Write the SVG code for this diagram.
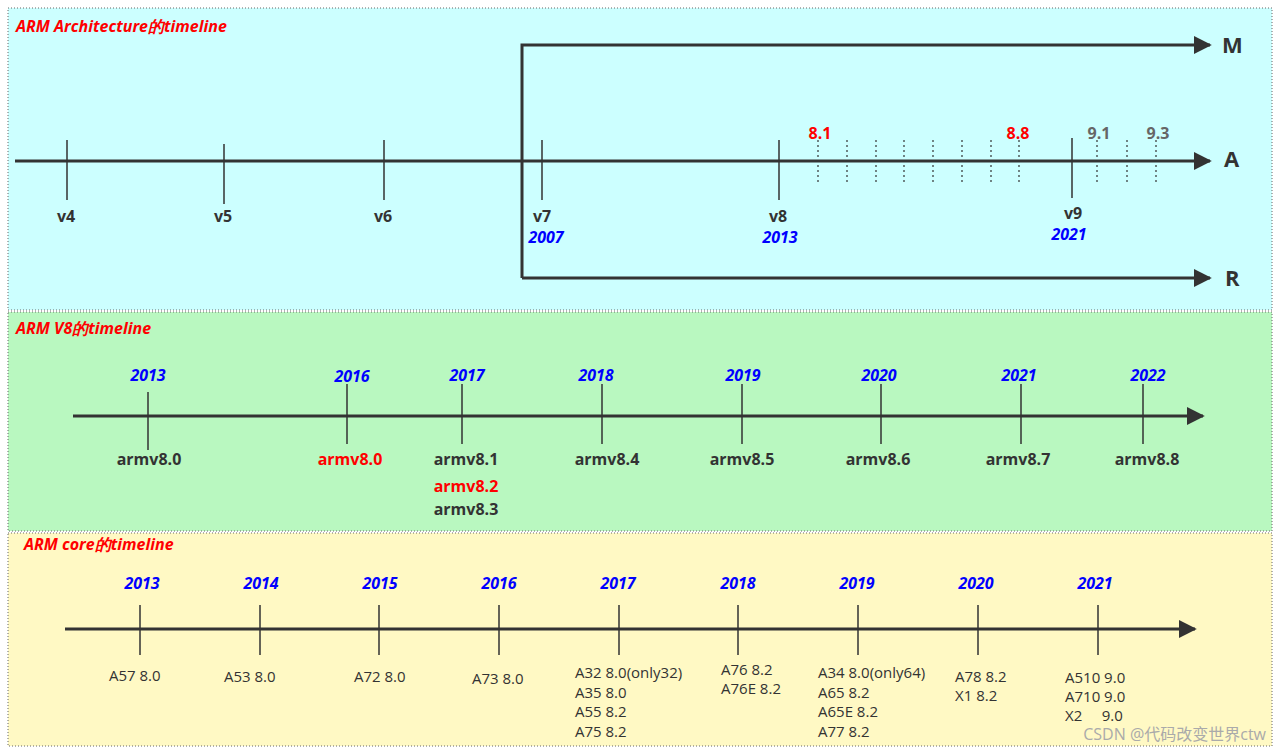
<svg xmlns="http://www.w3.org/2000/svg" width="1282" height="751" viewBox="0 0 1282 751">
<defs>
<marker id="ar" viewBox="0 0 10 10" refX="9" refY="5" markerWidth="18" markerHeight="18" markerUnits="userSpaceOnUse" orient="auto"><path d="M0,0L10,5L0,10z" fill="#333"/></marker>
<style>
.p{stroke:#666;stroke-dasharray:1 2;stroke-width:1}
.ax{stroke:#333;stroke-width:3;fill:none}
.t{stroke:#333;stroke-width:1.5}
.d{stroke:#333;stroke-width:1.2;stroke-dasharray:2 3}
.ti{font:italic bold 16px "Open Sans","Liberation Sans",sans-serif;fill:#f00}
.b{font:bold 16px "Open Sans","Liberation Sans",sans-serif;fill:#333;text-anchor:middle}
.r{fill:#f00}
.g{fill:#666}
.y{font:italic bold 16px "Open Sans","Liberation Sans",sans-serif;fill:#00f;text-anchor:middle}
.n{font:15px "Open Sans","Liberation Sans",sans-serif;fill:#333}
.L{font:bold 22px "Open Sans","Liberation Sans",sans-serif;fill:#333}
</style>
</defs>
<rect width="1282" height="751" fill="#fff"/>
<rect x="8" y="8" width="1264" height="302" fill="#ccffff" class="p"/>
<rect x="8" y="312" width="1264" height="219" fill="#b9f8c0" class="p"/>
<rect x="8" y="533" width="1264" height="213" fill="#fff9c4" class="p"/>
<text x="16" y="32" class="ti">ARM Architecture的timeline</text>
<text x="16" y="334" class="ti">ARM V8的timeline</text>
<text x="24" y="550" class="ti">ARM core的timeline</text>
<g id="connectors">
<path class="ax" d="M15,161H1210" marker-end="url(#ar)"/>
<path class="ax" d="M522,278V45H1210" marker-end="url(#ar)"/>
<path class="ax" d="M522,278H1210" marker-end="url(#ar)"/>
<path class="ax" d="M73,416H1203" marker-end="url(#ar)"/>
<path class="ax" d="M65,629H1195" marker-end="url(#ar)"/>
</g>
<text x="1222" y="53" class="L">M</text>
<text x="1224" y="167" class="L">A</text>
<text x="1225" y="286" class="L">R</text>
<g id="arch">
<path class="t" d="M67,140V200M224,144V204M384,140V200M542,140V200M779,140V200M1072,138V198"/>
<path class="d" d="M818,140V183M847,140V183M876,140V183M904,140V183M933,140V183M962,140V183M991,140V183M1019,140V183M1097,140V183M1127,140V183M1156,140V183"/>
<text x="66" y="222" class="b">v4</text><text x="223" y="222" class="b">v5</text><text x="383" y="222" class="b">v6</text>
<text x="542" y="222" class="b">v7</text><text x="778" y="222" class="b">v8</text><text x="1073" y="219" class="b">v9</text>
<text x="546" y="243" class="y">2007</text><text x="780" y="243" class="y">2013</text><text x="1069" y="240" class="y">2021</text>
<text x="820" y="139" class="b r">8.1</text><text x="1018" y="139" class="b r">8.8</text>
<text x="1099" y="139" class="b g">9.1</text><text x="1158" y="139" class="b g">9.3</text>
</g>
<g id="v8">
<path class="t" d="M148,392V450M347,384V444M462,384V444M602,384V444M742,384V444M881,384V444M1021,384V444M1143,384V444"/>
<text x="148" y="381" class="y">2013</text><text x="352" y="382" class="y">2016</text><text x="467" y="381" class="y">2017</text><text x="596" y="381" class="y">2018</text>
<text x="743" y="381" class="y">2019</text><text x="879" y="381" class="y">2020</text><text x="1019" y="381" class="y">2021</text><text x="1148" y="381" class="y">2022</text>
<text x="149" y="465" class="b">armv8.0</text><text x="350" y="465" class="b r">armv8.0</text><text x="466" y="465" class="b">armv8.1</text>
<text x="466" y="492" class="b r">armv8.2</text><text x="466" y="515" class="b">armv8.3</text>
<text x="607" y="465" class="b">armv8.4</text><text x="742" y="465" class="b">armv8.5</text><text x="878" y="465" class="b">armv8.6</text>
<text x="1018" y="465" class="b">armv8.7</text><text x="1147" y="465" class="b">armv8.8</text>
</g>
<g id="cores">
<path class="t" d="M140,605V655M260,605V655M379,605V655M499,605V655M619,605V655M738,605V655M858,605V655M978,605V655M1098,605V655"/>
<text x="142" y="589" class="y">2013</text><text x="261" y="589" class="y">2014</text><text x="380" y="589" class="y">2015</text><text x="499" y="589" class="y">2016</text>
<text x="618" y="589" class="y">2017</text><text x="738" y="589" class="y">2018</text><text x="857" y="589" class="y">2019</text><text x="976" y="589" class="y">2020</text><text x="1095" y="589" class="y">2021</text>
<text x="109" y="681" class="n">A57 8.0</text><text x="224" y="682" class="n">A53 8.0</text><text x="354" y="682" class="n">A72 8.0</text><text x="472" y="684" class="n">A73 8.0</text>
<text x="575" y="678" class="n">A32 8.0(only32)</text><text x="575" y="698" class="n">A35 8.0</text><text x="575" y="717" class="n">A55 8.2</text><text x="575" y="737" class="n">A75 8.2</text>
<text x="721" y="675" class="n">A76 8.2</text><text x="721" y="694" class="n">A76E 8.2</text>
<text x="818" y="678" class="n">A34 8.0(only64)</text><text x="818" y="698" class="n">A65 8.2</text><text x="818" y="717" class="n">A65E 8.2</text><text x="818" y="737" class="n">A77 8.2</text>
<text x="955" y="682" class="n">A78 8.2</text><text x="955" y="701" class="n">X1 8.2</text>
<text x="1065" y="683" class="n">A510 9.0</text><text x="1065" y="702" class="n">A710 9.0</text><text x="1065" y="721" class="n" xml:space="preserve">X2     9.0</text>
</g>
<text x="1266" y="740" text-anchor="end" style="font:16px 'Open Sans','Noto Sans CJK SC',sans-serif;fill:#aaa">CSDN @代码改变世界ctw</text>
</svg>
